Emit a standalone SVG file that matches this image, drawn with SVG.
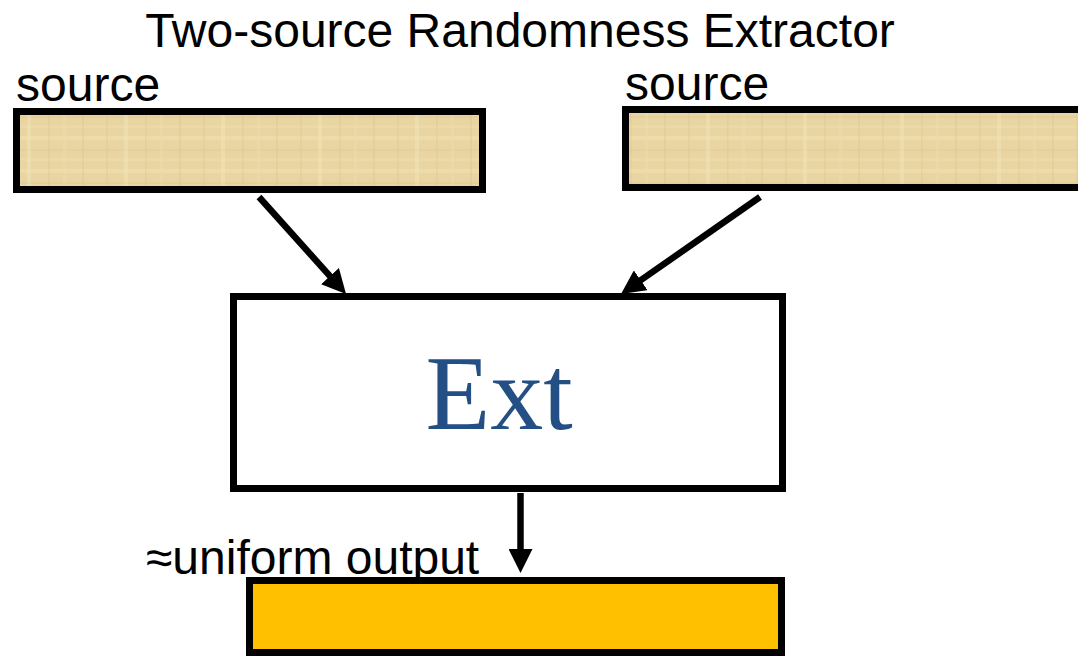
<svg xmlns="http://www.w3.org/2000/svg" width="1078" height="656" viewBox="0 0 1078 656">
  <defs>
    <style>
      .label { font-family: "Liberation Sans", Arial, sans-serif; font-size: 48px; fill: #000; }
      .box { stroke: #000; stroke-width: 7; }
      .src { fill: url(#papyrus); }
      .edge { stroke: #000; stroke-width: 6.5; fill: none; marker-end: url(#head); }
    </style>
    <!-- soft papyrus-like weave for the source strips -->
    <pattern id="papyrus" patternUnits="userSpaceOnUse" width="97" height="33">
      <rect width="97" height="33" fill="#E9D5A2"/>
      <rect x="0" y="4" width="97" height="4" fill="#F2E3B9" opacity="0.45"/>
      <rect x="0" y="17" width="97" height="2" fill="#DCC48E" opacity="0.35"/>
      <rect x="0" y="26" width="97" height="3" fill="#F0DFB0" opacity="0.4"/>
      <rect x="9" y="0" width="2" height="33" fill="#DBC28B" opacity="0.3"/>
      <rect x="27" y="0" width="4" height="33" fill="#F3E5BC" opacity="0.4"/>
      <rect x="48" y="0" width="1.5" height="33" fill="#D7BE86" opacity="0.3"/>
      <rect x="63" y="0" width="3" height="33" fill="#EEDCAC" opacity="0.4"/>
      <rect x="82" y="0" width="2" height="33" fill="#DAC18A" opacity="0.3"/>
    </pattern>
    <marker id="head" markerUnits="userSpaceOnUse" markerWidth="24" markerHeight="24"
            viewBox="0 0 24 24" refX="6" refY="12" orient="auto">
      <path d="M0,0 L24,12 L0,24 z" fill="#000"/>
    </marker>
  </defs>

  <text class="label" x="520" y="47" text-anchor="middle">Two-source Randomness Extractor</text>

  <g id="source-left">
    <text class="label" x="16" y="101">source</text>
    <rect class="box src" x="16.5" y="111.5" width="466" height="78"/>
  </g>

  <g id="source-right">
    <text class="label" x="625" y="100">source</text>
    <rect class="box src" x="625.5" y="109.5" width="460" height="78"/>
  </g>

  <g id="ext">
    <rect class="box" x="233.5" y="296.5" width="549" height="192" fill="#FFFFFF"/>
    <text x="499" y="429" text-anchor="middle" font-family="'Liberation Serif', 'Times New Roman', serif" font-size="106" fill="#234F84">Ext</text>
  </g>

  <g id="output">
    <text class="label" x="146" y="574">≈uniform output</text>
    <rect class="box" x="249.5" y="580.5" width="532" height="72" fill="#FFC000"/>
  </g>

  <g id="connectors">
    <line class="edge" x1="259" y1="197" x2="334" y2="280.6"/>
    <line class="edge" x1="760" y1="197" x2="635.8" y2="283.7"/>
    <line class="edge" x1="520.5" y1="493" x2="520.5" y2="555"/>
  </g>
</svg>
